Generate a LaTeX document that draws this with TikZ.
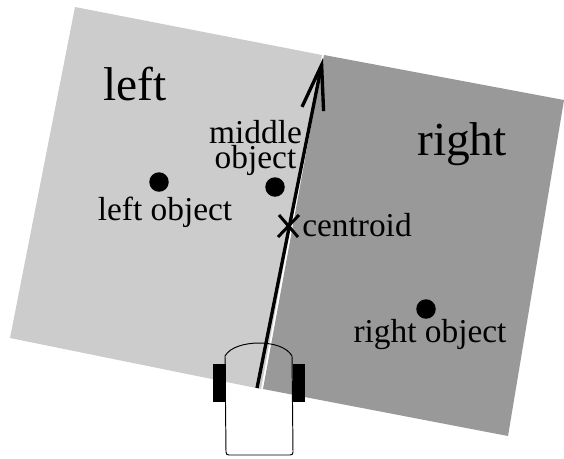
\documentclass[tikz,border=0pt]{standalone}
\usepackage{fontspec}
\setmainfont{Liberation Serif}
\usetikzlibrary{arrows.meta}
\definecolor{lightregion}{gray}{0.80}
\definecolor{darkregion}{gray}{0.60}
\tikzset{
  label/.style={anchor=base,inner sep=0pt,font=\fontsize{19}{14.7}\selectfont},
  biglabel/.style={anchor=base,inner sep=0pt,font=\fontsize{27}{27}\selectfont},
  object/.style={circle,fill=black,inner sep=0pt,minimum size=0.39cm},
  wheel/.style={fill=black,draw=none}
}
\begin{document}
\begin{tikzpicture}[x=0.02cm,y=-0.02cm]
  \useasboundingbox (0,0) rectangle (564,458);
  % Two regions either side of the heading
  \fill[lightregion] (75,7) -- (322,55) -- (261,389) -- (10,338) -- cycle;
  \fill[darkregion] (324,55) -- (564,100) -- (508,436) -- (263,389) -- cycle;
  % Vehicle
  \draw[line width=0.55pt] (226,452) .. controls (226,454) and (227,455) .. (229,455)
    -- (290,455) .. controls (292,455) and (293,454) .. (293,452)
    -- (292,356) .. controls (287,347) and (273,343) .. (259,343)
    .. controls (245,343) and (230,347) .. (225,356) -- cycle;
  \fill[wheel] (213,364) rectangle (226,402);
  \fill[wheel] (293,364) rectangle (305,402);
  % Heading
  \coordinate (start) at (257,388);
  \coordinate (tip) at (323,58);
  \draw[-{Straight Barb[length=0.9cm,width=0.44cm]},line width=1.9pt] (start) -- (tip);
  % Objects
  \node[object] (leftobj) at (159,182) {};
  \node[object] (midobj) at (275,187) {};
  \node[object] (rightobj) at (426,309) {};
  \node[inner sep=0pt] (centroid) at (288,226) {};
  \draw[line width=1.7pt] (278,237) -- (299,215) (279,215) -- (298,237);
  % Labels
  \node[biglabel] (leftlab) at (135,100) {left};
  \node[biglabel] (rightlab) at (462,155) {right};
  \node[label,anchor=center,align=center] (midlab) at (255.5,148) {middle\\object};
  \node[label] (leftobjlab) at (165,220) {left object};
  \node[label] (centroidlab) at (357,236) {centroid};
  \node[label] (rightobjlab) at (430,342) {right object};
\end{tikzpicture}
\end{document}
